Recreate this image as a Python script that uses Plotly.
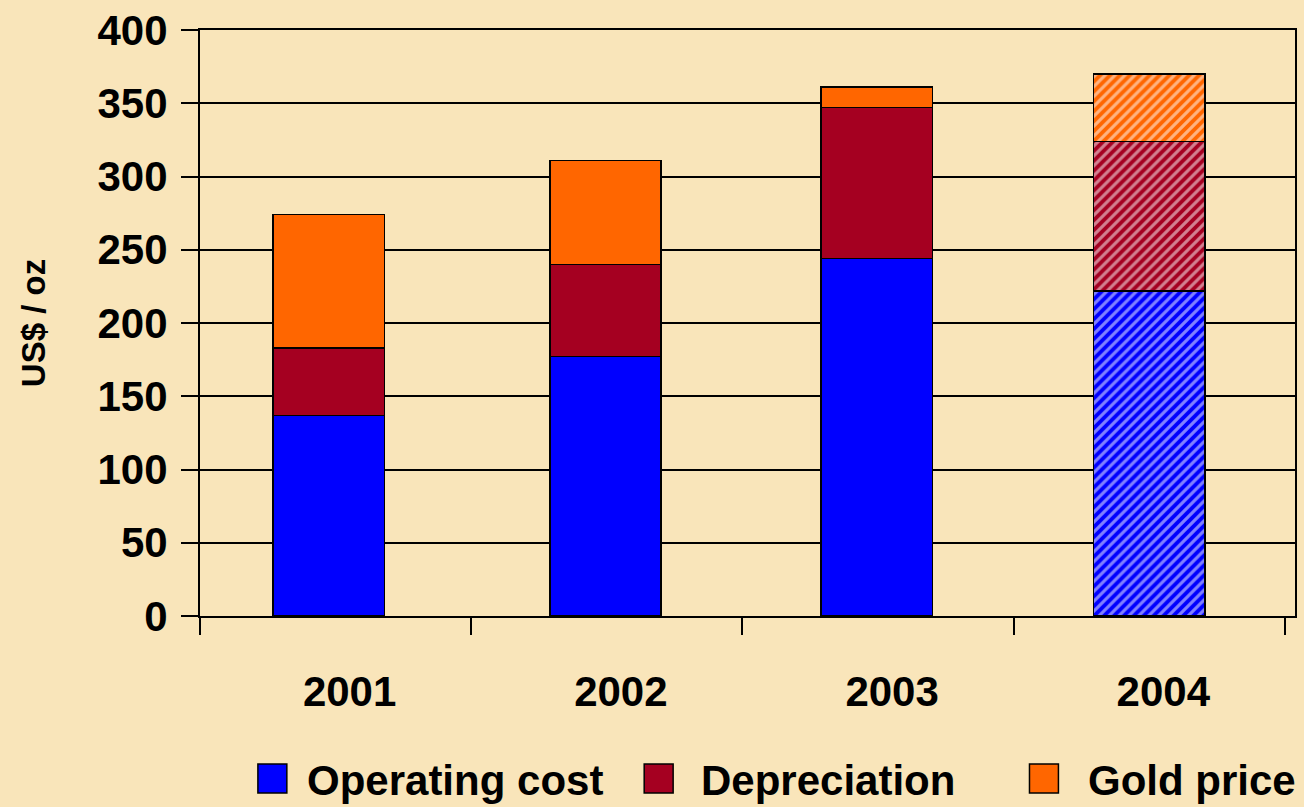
import plotly.graph_objects as go

# Dados (US$ / oz)
years = ["2001", "2002", "2003", "2004"]
operating_cost = [137, 177, 244, 222]
depreciation = [46, 63, 103, 102]
gold_price = [91, 71, 14, 46]
y_ticks = [0, 50, 100, 150, 200, 250, 300, 350, 400]

series = [
    ("Operating cost", operating_cost, "#0000FF"),
    ("Depreciation", depreciation, "#A50021"),
    ("Gold price", gold_price, "#FF6600"),
]

BG = "#F9E5BA"
FONT = "Arial, Liberation Sans, sans-serif"


def main():
    fig = go.Figure()

    # Barras empilhadas; 2004 hachurado (estimativa)
    for name, vals, color in series:
        fig.add_trace(go.Bar(
            x=years,
            y=vals,
            name=name,
            width=0.41,
            offset=[-0.23, -0.21, -0.21, -0.205],
            marker=dict(
                color=color,
                line=dict(color="black", width=1.5),
                pattern=dict(
                    shape=["", "", "", "/"],
                    fgcolor="white",
                    fillmode="overlay",
                    size=7,
                    solidity=0.45,
                ),
            ),
        ))

    fig.update_layout(
        barmode="stack",
        width=1304,
        height=807,
        paper_bgcolor=BG,
        plot_bgcolor=BG,
        showlegend=False,
        margin=dict(l=200, r=7, t=30, b=191),
        font=dict(family=FONT, color="black"),
    )

    fig.update_xaxes(
        type="category",
        range=[-0.5, 3.537],
        tickson="boundaries",
        ticks="outside",
        ticklen=17,
        tickwidth=2,
        tickcolor="black",
        ticklabelstandoff=38,
        ticklabelshift=14,
        tickfont=dict(size=42, family=FONT, color="black", weight="bold"),
        showline=True,
        linecolor="black",
        linewidth=2,
        mirror=True,
        showgrid=False,
    )

    fig.update_yaxes(
        range=[0, 400],
        tickvals=y_ticks,
        ticks="outside",
        ticklen=17,
        tickwidth=2,
        tickcolor="black",
        ticklabelstandoff=5,
        tickfont=dict(size=42, family=FONT, color="black", weight="bold"),
        showgrid=True,
        gridcolor="black",
        gridwidth=1.5,
        zeroline=False,
        showline=True,
        linecolor="black",
        linewidth=2,
        mirror=True,
        title=dict(
            text="US$ / oz",
            font=dict(size=33, family=FONT, color="black", weight="bold"),
            standoff=42,
        ),
    )

    # Legenda manual na parte inferior
    legend_pos = [(258, 305), (645, 700), (1031, 1088)]
    for (name, _, color), (bx, tx) in zip(series, legend_pos):
        fig.add_shape(
            type="rect", xref="paper", yref="paper",
            x0=(bx - 200) / 1097, x1=(bx + 29 - 200) / 1097,
            y0=(616 - 793) / 586, y1=(616 - 764) / 586,
            fillcolor=color, line=dict(color="black", width=1.5),
        )
        fig.add_annotation(
            text=name, xref="paper", yref="paper",
            x=(tx - 200) / 1097, y=(616 - 780) / 586,
            xanchor="left", yanchor="middle", showarrow=False,
            font=dict(size=42, family=FONT, color="black", weight="bold"),
        )

    # remove a margem padrão do body para ocupar a janela inteira
    fig.write_html(
        "out.html",
        config={"displayModeBar": False},
        post_script="document.body.style.margin='0';",
    )


if __name__ == "__main__":
    main()
